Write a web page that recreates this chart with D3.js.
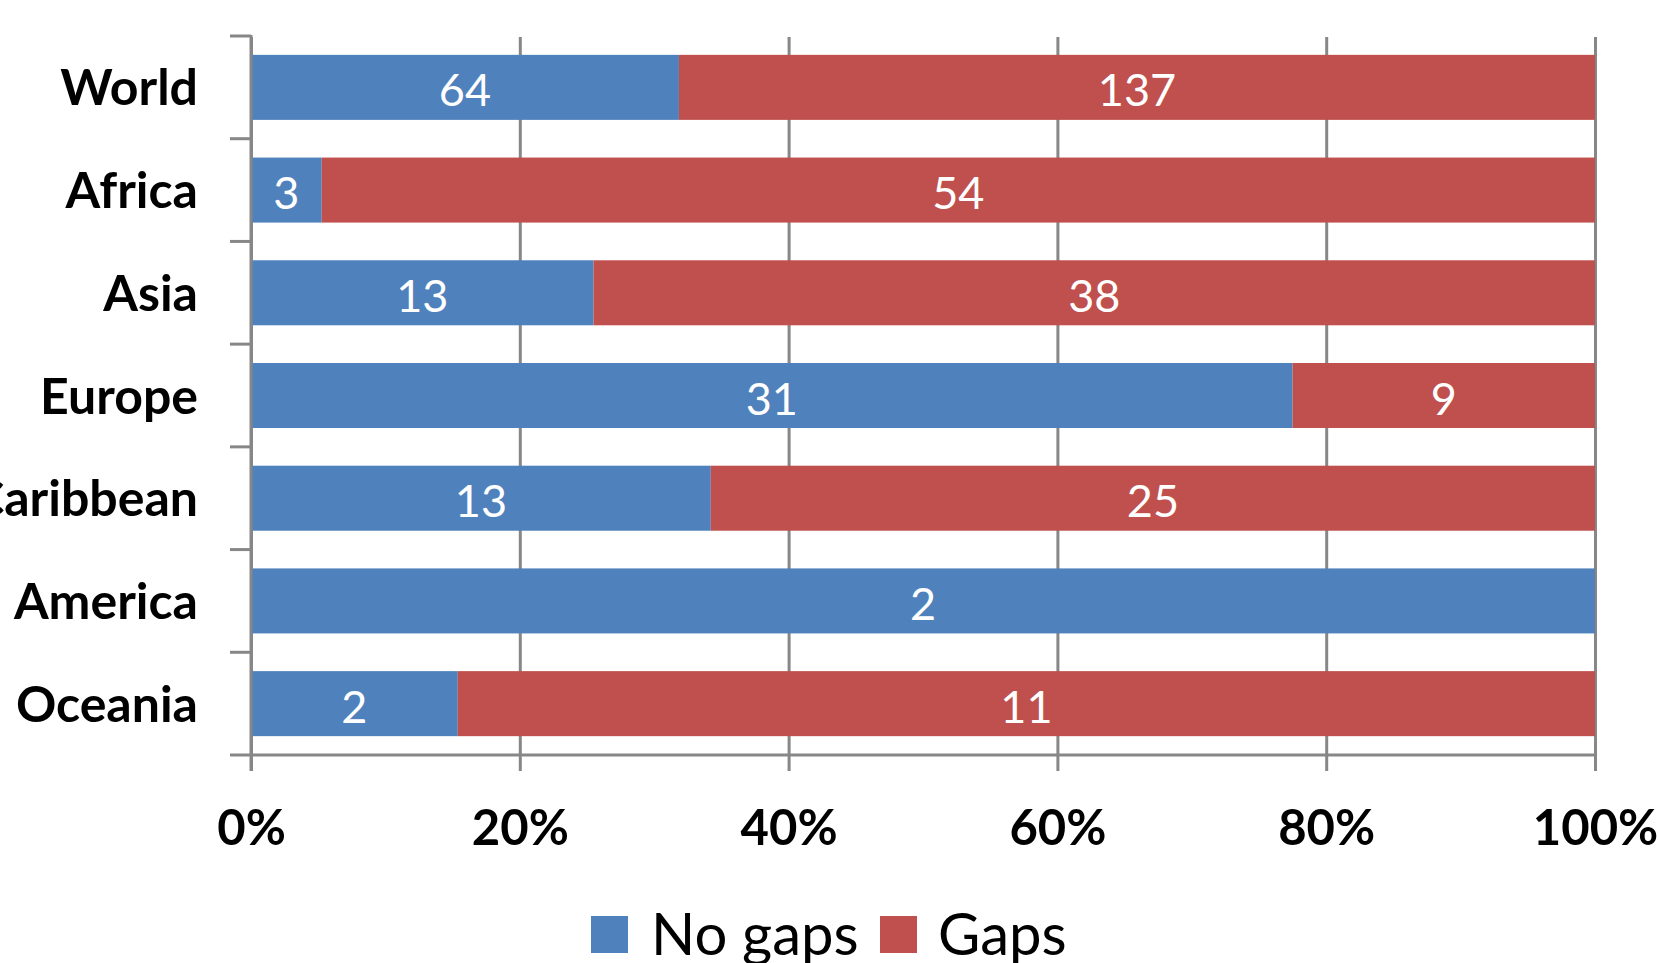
<!DOCTYPE html>
<html>
<head>
<meta charset="utf-8">
<script src="https://cdn.jsdelivr.net/npm/d3@7"></script>
<style>
  html, body { margin: 0; padding: 0; background: #fff; overflow: hidden; }
  svg { display: block; }
</style>
</head>
<body>
<svg id="chart" width="1659" height="963"></svg>
<script>
const categories = ["World", "Africa", "Asia", "Europe", "Caribbean", "America", "Oceania"];
const noGaps = [64, 3, 13, 31, 13, 2, 2];
const gaps = [137, 54, 38, 9, 25, 0, 11];
const seriesNames = ["No gaps", "Gaps"];
const tickValues = [0, 0.2, 0.4, 0.6, 0.8, 1.0];
const tickLabels = ["0%", "20%", "40%", "60%", "80%", "100%"];

const colors = ["#4F81BD", "#C0504D"];
const axisColor = "#878787";
const svg = d3.select("#chart");

const x = d3.scaleLinear().domain([0, 1]).range([251, 1595]);
const y = d3.scaleBand().domain(categories).range([36, 755])
  .paddingInner(0.367).paddingOuter(0.1835);

const rows = categories.map((c, i) => ({ cat: c, vals: [noGaps[i], gaps[i]], total: noGaps[i] + gaps[i] }));
const stackData = rows.map(r => {
  let acc = 0;
  return r.vals.map((v, s) => {
    const d = { cat: r.cat, s, v, x0: acc / r.total, x1: (acc + v) / r.total };
    acc += v;
    return d;
  });
});

// gridlines / x axis via d3 axis
const xAxis = d3.axisBottom(x).tickValues(tickValues).tickFormat((d, i) => tickLabels[i])
  .tickSizeInner(-(755 - 37)).tickSizeOuter(0).tickPadding(0);
const gx = svg.append("g").attr("transform", "translate(0,755)").call(xAxis);
gx.select(".domain").remove();
gx.selectAll(".tick line").attr("stroke", axisColor).attr("stroke-width", 3).attr("y2", -(755 - 37)).attr("y1", 16);
gx.selectAll(".tick text")
  .attr("y", 90).attr("dy", 0)
  .attr("fill", "#000")
  .style("font-family", "Lato, 'Open Sans', sans-serif")
  .style("font-weight", "bold")
  .style("font-size", "49px");

// bars
const gBars = svg.append("g");
stackData.forEach(row => {
  row.filter(d => d.v > 0).forEach(d => {
    gBars.append("rect")
      .attr("x", x(d.x0))
      .attr("y", y(d.cat))
      .attr("width", x(d.x1) - x(d.x0))
      .attr("height", y.bandwidth())
      .attr("fill", colors[d.s]);
  });
});

// y axis line and ticks
const boundaries = d3.range(categories.length + 1).map(i => y.range()[0] + i * y.step());
svg.append("line").attr("x1", x(0)).attr("x2", x(0)).attr("y1", 35).attr("y2", 771)
  .attr("stroke", axisColor).attr("stroke-width", 3);
svg.append("line").attr("x1", 230).attr("x2", x(1)).attr("y1", 755).attr("y2", 755)
  .attr("stroke", axisColor).attr("stroke-width", 3);
svg.selectAll(".ytick").data(boundaries.slice(0, -1)).enter().append("line")
  .attr("x1", 230).attr("x2", x(0)).attr("y1", d => d).attr("y2", d => d)
  .attr("stroke", axisColor).attr("stroke-width", 3);

// y labels
svg.selectAll(".ylab").data(categories).enter().append("text")
  .attr("x", 198)
  .attr("y", d => y(d) + y.bandwidth() / 2 + 18)
  .attr("text-anchor", "end")
  .style("font-family", "Lato, 'Open Sans', sans-serif")
  .style("font-weight", "bold")
  .style("font-size", "50px")
  .attr("fill", "#000")
  .text(d => d);

// data labels
stackData.forEach(row => {
  row.filter(d => d.v > 0).forEach(d => {
    svg.append("text")
      .attr("x", (x(d.x0) + x(d.x1)) / 2)
      .attr("y", y(d.cat) + y.bandwidth() / 2 + 3 + 16)
      .attr("text-anchor", "middle")
      .attr("fill", "#fff")
      .style("font-family", "Lato, 'Open Sans', sans-serif")
      .style("font-size", "45px")
      .text(d.v);
  });
});

// legend
const legendItems = [
  { name: seriesNames[0], color: colors[0], sx: 591, tx: 651 },
  { name: seriesNames[1], color: colors[1], sx: 880, tx: 938 }
];
legendItems.forEach(it => {
  svg.append("rect").attr("x", it.sx).attr("y", 916).attr("width", 37).attr("height", 37).attr("fill", it.color);
  svg.append("text").attr("x", it.tx).attr("y", 955)
    .style("font-family", "Lato, 'Open Sans', sans-serif")
    .style("font-size", "58px")
    .attr("fill", "#000")
    .text(it.name);
});
</script>
</body>
</html>
